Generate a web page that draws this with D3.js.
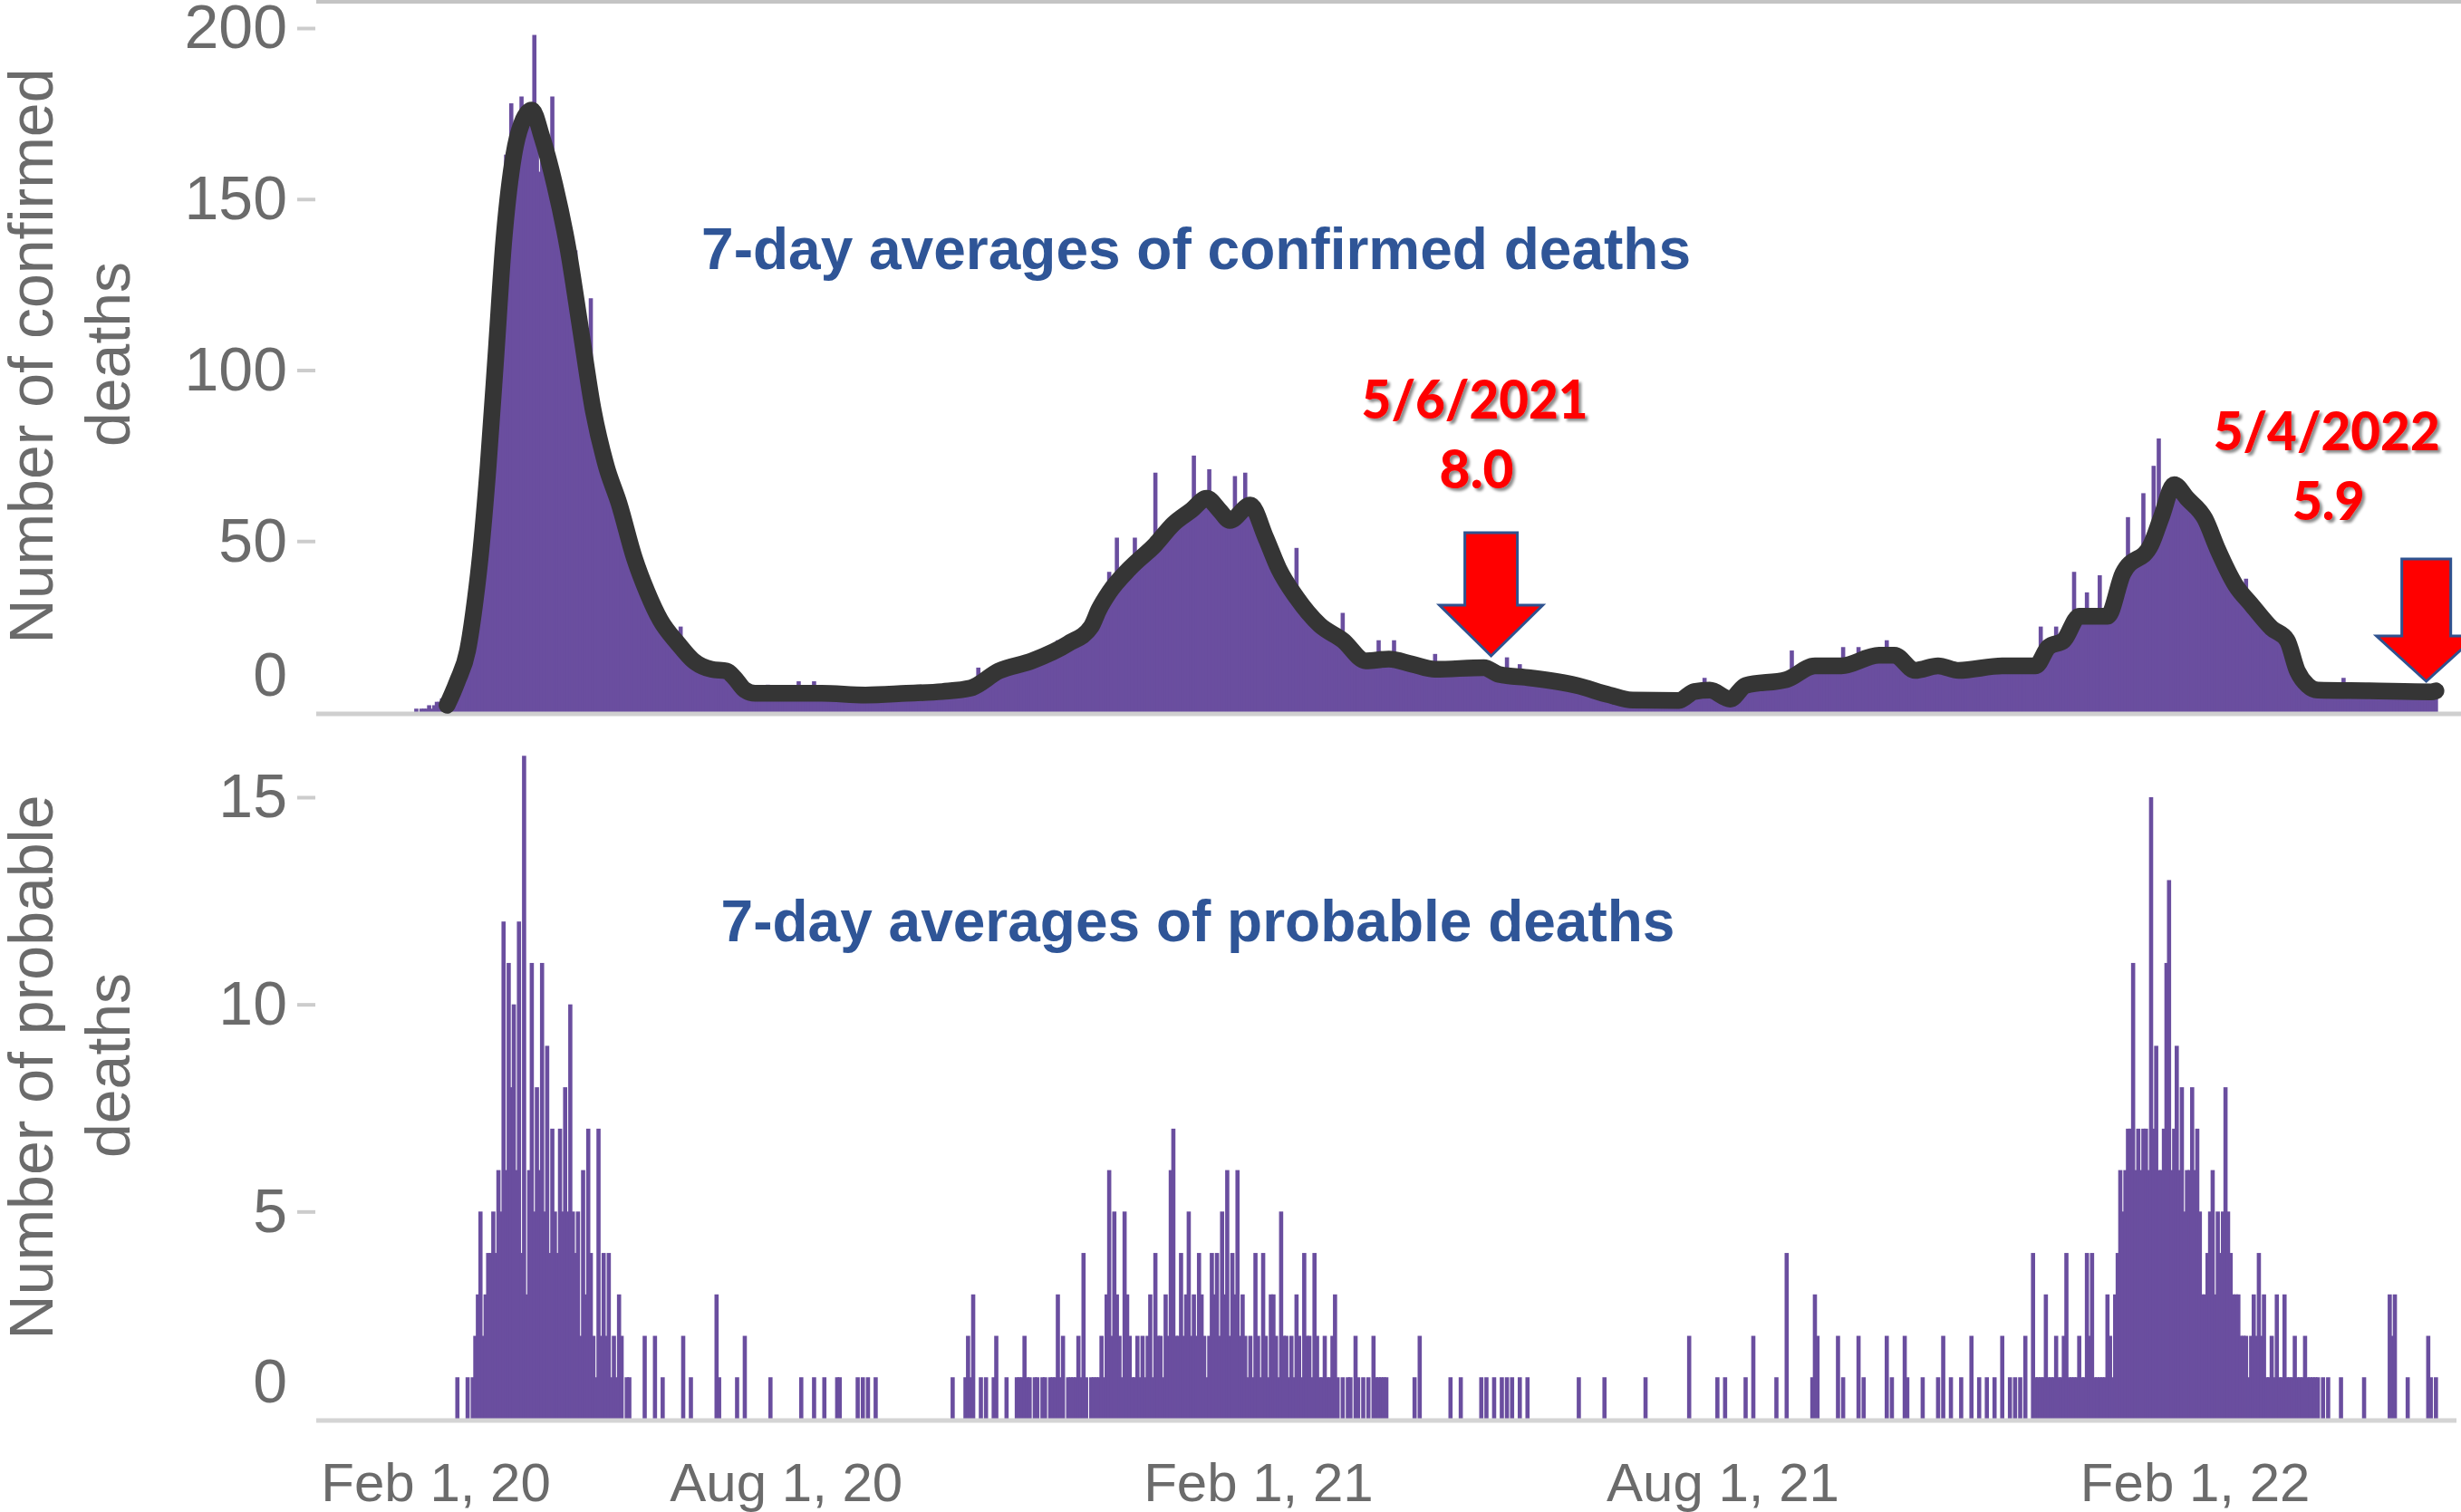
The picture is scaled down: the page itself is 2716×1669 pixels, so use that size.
<!DOCTYPE html>
<html>
<head>
<meta charset="utf-8">
<script src="https://cdn.jsdelivr.net/npm/d3@7"></script>
<style>
  html, body { margin: 0; padding: 0; background: #ffffff; }
  svg { display: block; }
</style>
</head>
<body>
<svg id="chart" width="2716" height="1669"></svg>
<script>
// ---------------- DATA ----------------
// Daily series start on this date (one value per day)
const seriesStart = "2020-03-01";

// Confirmed deaths per day, Mar 1 2020 - Dec 31 2020 (one row per month)
const confirmed2020 = [
  0,0,0,0,0,0,0,0,0,1,0,1,1,1,2,1,2,3,3,4,4,5,5,7,8,10,12,14,16,19,22,
  26,30,36,42,50,84,68,101,95,112,118,128,140,163,150,178,158,165,172,180,168,172,172,178,198,165,158,170,162,165,
  160,180,150,148,152,145,140,138,132,128,135,122,112,108,100,95,121,85,80,78,76,72,70,66,64,68,62,60,58,55,52,
  50,47,44,45,42,38,36,35,33,31,30,28,27,25,24,23,22,21,20,19,25,18,17,16,15,15,14,14,13,13,
  12,13,12,11,13,12,12,11,12,10,9,8,8,7,7,6,6,5,6,5,5,6,5,4,8,6,5,4,5,6,5,
  5,4,6,5,4,9,5,4,5,6,5,9,4,5,6,5,4,5,5,6,4,5,5,4,6,5,4,5,5,4,5,
  4,5,4,5,3,4,5,6,4,5,4,5,6,5,4,5,6,5,5,6,5,4,6,5,6,5,6,7,5,6,
  6,5,7,6,5,7,6,7,6,8,7,7,8,7,13,8,9,10,9,11,12,11,12,13,12,11,13,14,12,13,14,
  14,15,13,16,15,17,14,15,16,17,18,16,17,19,21,18,19,20,19,21,20,22,24,23,22,25,24,26,27,28,
  29,31,33,34,41,36,37,51,39,40,42,41,43,42,51,44,46,47,45,48,47,49,70,50,48,52,53,54,56,55,57
];
// Confirmed deaths per day, 2021
const confirmed2021 = [
  56,58,57,59,58,60,75,61,60,62,63,61,71,62,60,60,58,57,56,55,54,57,69,56,58,60,70,61,62,60,58,
  55,54,52,50,49,47,45,43,42,40,38,37,36,35,34,48,32,31,30,29,28,27,27,26,25,25,24,23,
  23,22,22,21,20,29,20,19,18,17,16,16,15,15,15,14,15,14,15,21,15,16,15,16,15,21,14,15,14,14,14,
  14,13,14,13,12,13,12,13,12,13,17,12,13,12,13,12,13,14,12,13,14,13,12,14,13,14,13,12,13,14,
  13,12,12,11,11,10,11,10,16,10,11,10,10,14,10,9,10,10,9,10,9,10,9,9,8,9,8,9,8,8,9,
  8,8,7,8,8,7,7,8,7,6,7,6,6,6,5,6,5,5,5,4,5,4,4,4,3,4,3,3,4,3,
  3,3,4,3,3,2,3,4,3,3,4,3,3,4,3,4,5,6,5,6,7,6,6,7,10,6,7,6,5,5,4,
  4,4,3,4,4,5,6,7,8,8,8,7,8,9,8,9,8,9,9,10,9,10,9,10,9,10,11,18,11,12,12,
  12,13,13,14,13,14,13,14,13,14,13,14,13,14,13,14,19,14,15,14,15,16,19,15,16,15,16,17,16,17,
  16,17,17,21,16,17,16,15,15,14,13,12,12,12,12,13,12,13,13,14,13,14,13,14,13,14,13,12,12,12,13,
  12,12,13,12,12,13,12,13,13,14,13,13,14,13,14,13,14,13,14,13,14,14,13,14,13,14,13,14,13,14,
  14,15,25,17,18,19,20,21,25,21,20,21,22,24,26,41,27,28,27,28,35,28,27,28,27,40,28,29,30,32,34
];
// Confirmed deaths per day, Jan 1 2022 - May 6 2022
const confirmed2022 = [
  36,38,40,41,42,57,43,44,45,46,47,64,46,47,48,72,50,80,58,60,62,64,66,67,66,65,64,63,62,61,60,
  59,58,57,56,55,53,51,49,47,45,43,42,41,40,39,38,37,36,35,34,39,33,32,31,30,29,28,27,
  26,25,24,24,23,22,22,21,21,20,16,10,8,7,7,6,7,7,7,6,6,6,7,6,6,7,6,6,7,6,10,
  6,7,6,6,5,6,7,6,6,7,6,6,5,6,7,6,6,5,6,7,6,6,5,6,7,6,6,5,6,6,
  6,6,6,6,6,5
];

// Probable deaths per day, Mar 1 2020 - Dec 31 2020
const probable2020 = [
  0,0,0,0,0,0,0,0,0,0,0,0,0,0,0,0,0,0,0,0,0,0,0,0,0,1,0,0,0,1,0,
  1,2,3,5,2,3,4,4,5,4,6,5,12,6,11,8,10,6,12,4,16,3,6,11,5,8,6,11,5,9,
  4,7,5,4,7,5,8,5,10,5,4,5,2,6,3,7,4,2,1,7,2,4,2,4,1,2,1,3,2,0,1,
  1,0,0,0,0,0,2,0,0,0,2,0,0,1,0,0,0,0,0,0,0,2,0,0,1,0,0,0,0,0,
  0,0,0,0,3,1,0,0,0,0,0,0,1,0,0,2,0,0,0,0,0,0,0,0,0,1,0,0,0,0,0,
  0,0,0,0,0,0,1,0,0,0,0,1,0,0,0,1,0,0,0,0,1,1,0,0,0,0,0,0,1,0,1,
  0,1,0,0,1,0,0,0,0,0,0,0,0,0,0,0,0,0,0,0,0,0,0,0,0,0,0,0,0,0,
  0,0,0,0,1,0,0,0,0,1,2,1,3,0,0,1,0,1,0,0,1,2,0,0,0,1,0,0,0,1,1,
  1,2,1,1,0,1,1,0,1,1,0,1,1,1,3,1,2,0,1,1,1,1,2,1,4,1,0,1,1,1,
  1,2,1,3,6,2,5,3,2,1,5,3,2,1,1,2,1,2,1,2,3,1,4,2,2,1,3,2,6,7,2
];
// Probable deaths per day, 2021
const probable2021 = [
  2,4,2,3,5,2,3,2,4,3,2,1,2,4,3,4,2,5,3,6,2,4,3,6,2,3,2,1,2,1,4,
  2,1,4,2,1,3,3,2,1,5,2,2,1,2,1,3,2,1,4,2,2,1,4,2,1,1,2,1,
  1,2,3,1,0,1,0,1,1,0,2,1,0,1,0,1,0,2,1,1,1,1,1,0,0,0,0,0,0,0,0,
  0,0,1,0,2,0,0,0,0,0,0,0,0,0,0,0,1,0,0,0,1,0,0,0,0,0,0,0,1,0,
  1,0,0,1,0,0,1,0,1,0,1,0,0,1,0,0,1,0,0,0,0,0,0,0,0,0,0,0,0,0,0,
  0,0,0,0,0,1,0,0,0,0,0,0,0,0,0,1,0,0,0,0,0,0,0,0,0,0,0,0,0,0,
  0,1,0,0,0,0,0,0,0,0,0,0,0,0,0,0,0,0,2,0,0,0,0,0,0,0,0,0,0,1,0,
  0,1,0,0,0,0,0,0,0,1,0,0,2,0,0,0,0,0,0,0,0,1,0,0,0,4,0,0,0,0,0,
  0,0,0,0,1,3,2,0,0,0,0,0,0,0,2,0,1,0,0,0,0,0,2,0,1,0,0,0,0,0,
  0,0,0,2,0,1,0,0,0,0,2,1,0,0,0,0,0,1,0,0,0,0,0,1,0,2,0,0,1,0,0,
  0,1,0,0,0,2,0,0,1,0,0,1,0,0,1,0,0,2,0,0,1,0,1,0,1,0,2,0,0,4,
  1,1,1,1,3,1,1,1,2,1,1,2,4,1,1,1,1,2,1,1,4,2,4,1,1,1,1,1,3,2,1
];
// Probable deaths per day, Jan 1 2022 - May 6 2022
const probable2022 = [
  3,4,6,5,6,7,7,11,6,7,6,7,7,6,15,7,9,6,6,7,11,13,6,7,9,6,8,5,6,6,8,
  6,7,5,3,3,4,5,6,3,5,4,5,8,5,4,3,3,3,2,2,2,1,2,3,2,4,2,3,
  1,1,2,1,3,1,1,3,1,1,1,2,1,1,1,2,1,1,1,1,1,0,1,0,1,0,0,0,0,1,0,
  0,0,0,0,0,0,0,1,0,0,0,0,0,0,0,0,0,3,2,3,0,0,0,0,1,0,0,0,0,0,
  0,0,2,1,0,1
];

// 7-day average of confirmed deaths
const avgDates = [
  "2020-03-22","2020-03-26","2020-03-30","2020-04-02","2020-04-04","2020-04-07","2020-04-10","2020-04-13",
  "2020-04-17","2020-04-20","2020-04-24","2020-04-28","2020-05-03","2020-05-08","2020-05-13","2020-05-18",
  "2020-05-23","2020-05-28","2020-06-03","2020-06-08","2020-06-13","2020-06-20","2020-06-26","2020-07-03",
  "2020-07-09","2020-07-12","2020-07-16","2020-07-20","2020-08-01","2020-08-15","2020-09-01","2020-09-17",
  "2020-10-01","2020-10-12","2020-10-23","2020-11-05","2020-11-19","2020-11-28","2020-12-01","2020-12-05","2020-12-13",
  "2020-12-23","2020-12-30","2021-01-06","2021-01-12","2021-01-17","2021-01-21","2021-01-29","2021-02-04",
  "2021-02-09","2021-02-16","2021-02-25","2021-03-06","2021-03-15","2021-03-24","2021-04-02","2021-04-11",
  "2021-04-30","2021-05-06","2021-05-18","2021-06-05","2021-06-18","2021-06-27","2021-07-15","2021-07-21",
  "2021-07-27","2021-08-04","2021-08-10","2021-08-26","2021-09-06","2021-09-16","2021-10-01","2021-10-07",
  "2021-10-15","2021-10-24","2021-11-01","2021-11-18","2021-12-01","2021-12-06","2021-12-12","2021-12-18",
  "2021-12-29","2022-01-04","2022-01-15","2022-01-19","2022-01-24","2022-01-29","2022-02-05","2022-02-10",
  "2022-02-17","2022-02-23","2022-03-03","2022-03-09","2022-03-13","2022-03-17","2022-03-21","2022-04-10",
  "2022-05-04","2022-05-06"
];
const avgValues = [
  2,9,18,33,46,72,104,137,
  163,172,176,168,154,136,112,88,
  72,61,45,35,27,20,15,12.5,
  12,10,6.5,5.5,5.5,5.5,5,5.5,
  6,7,12,15,20,25,30,35,42,
  49,55,59,62.5,59,56,60.5,51,
  42,33.5,25.5,21,15,15.5,14,12.5,
  13,11,10,7.8,5,3.5,3.4,6,
  6.4,3.8,7.8,9.5,13.5,13.5,16.6,16.6,
  12.2,13.5,12.2,13.5,13.5,19,21,28,
  28,40.5,49,57,66.5,62.5,56.5,47.5,
  37,31.5,24.5,21,12,7.8,6.4,6.2,
  5.9,6.2
];

// Axis ticks and labels
const confirmedTicks = [0, 50, 100, 150, 200];
const probableTicks = [0, 5, 10, 15];
const xTickDates = ["2020-02-01", "2020-08-01", "2021-02-01", "2021-08-01", "2022-02-01"];
const xTickLabels = ["Feb 1, 20", "Aug 1, 20", "Feb 1, 21", "Aug 1, 21", "Feb 1, 22"];

// Texts and annotations
const confirmedTitle = ["Number of confirmed", "deaths"];
const probableTitle = ["Number of probable", "deaths"];
const confirmedNote = "7-day averages of confirmed deaths";
const probableNote = "7-day averages of probable deaths";
const annotationDates = ["2021-05-06", "2022-05-04"];
const annotationDateLabels = ["5/6/2021", "5/4/2022"];
const annotationValueLabels = ["8.0", "5.9"];

// ---------------- CHART ----------------
const svg = d3.select("#chart");
const parse = d3.utcParse("%Y-%m-%d");
const start = parse(seriesStart);

function toDaily(parts) {
  const vals = [].concat(...parts);
  return vals.map((v, i) => ({ date: d3.utcDay.offset(start, i), value: v }));
}
const confirmed = toDaily([confirmed2020, confirmed2021, confirmed2022]);
const probable = toDaily([probable2020, probable2021, probable2022]);
const avg = avgDates.map((d, i) => ({ date: parse(d), value: avgValues[i] }));

const FONT = "'Liberation Sans', Arial, Helvetica, sans-serif";
const GRAY_TEXT = "#6b6b6b";
const BAR = "#6a4e9f";

const x = d3.scaleUtc()
  .domain([parse("2020-01-31"), parse("2022-05-14")])
  .range([349, 2711]);
const yTop = d3.scaleLinear().domain([0, 200]).range([786, 31]);
const yBot = d3.scaleLinear().domain([0, 15]).range([1566, 880]);

const step = x(d3.utcDay.offset(start, 1)) - x(start);
const barW = 4.6;

svg.append("defs").html(
  '<filter id="shadow" x="-10%" y="-20%" width="130%" height="150%">' +
  '<feDropShadow dx="3" dy="3" stdDeviation="1.6" flood-color="#000" flood-opacity="0.45"/></filter>'
);

// top border
svg.append("line").attr("x1", 349).attr("x2", 2716).attr("y1", 2).attr("y2", 2)
  .attr("stroke", "#c4c4c4").attr("stroke-width", 4);

// bars
function drawBars(data, y) {
  svg.append("g").selectAll("rect")
    .data(data.filter(d => d.value > 0))
    .join("rect")
    .attr("x", d => x(d.date) - barW / 2)
    .attr("width", barW)
    .attr("y", d => y(d.value))
    .attr("height", d => y(0) - y(d.value))
    .attr("fill", BAR);
}
drawBars(confirmed, yTop);
drawBars(probable, yBot);

// baselines
svg.append("line").attr("x1", 349).attr("x2", 2716).attr("y1", 788).attr("y2", 788)
  .attr("stroke", "#cfcfcf").attr("stroke-width", 5);
svg.append("line").attr("x1", 349).attr("x2", 2711).attr("y1", 1568).attr("y2", 1568)
  .attr("stroke", "#d4d4d4").attr("stroke-width", 5);

// 7-day average line
svg.append("path")
  .datum(avg)
  .attr("fill", "none")
  .attr("stroke", "#353535")
  .attr("stroke-width", 18.5)
  .attr("stroke-linejoin", "round")
  .attr("stroke-linecap", "round")
  .attr("d", d3.line().x(d => x(d.date)).y(d => yTop(d.value)).curve(d3.curveMonotoneX));

// y axes
function yAxis(scale, ticks) {
  const g = svg.append("g")
    .attr("transform", "translate(348,0)")
    .call(d3.axisLeft(scale).tickValues(ticks).tickSize(20).tickPadding(11).tickFormat(d3.format("d")));
  g.attr("font-size", 68).attr("font-family", FONT);
  g.select(".domain").remove();
  g.selectAll(".tick line").attr("stroke", "#cccccc").attr("stroke-width", 4);
  g.selectAll(".tick text").attr("fill", GRAY_TEXT);
  const zero = g.selectAll(".tick").filter(d => d === 0);
  zero.select("line").remove();
  zero.select("text").attr("y", -40);
}
yAxis(yTop, confirmedTicks);
yAxis(yBot, probableTicks);

// x axis
const gx = svg.append("g")
  .attr("transform", "translate(0,1566)")
  .call(d3.axisBottom(x).tickValues(xTickDates.map(parse)).tickSize(0)
    .tickFormat((d, i) => xTickLabels[i]));
gx.attr("font-size", 60).attr("font-family", FONT);
gx.select(".domain").remove();
gx.selectAll(".tick text").attr("y", 91).attr("dy", 0).attr("fill", GRAY_TEXT);
gx.selectAll(".tick").filter((d, i) => i === 0).select("text")
  .attr("text-anchor", "start").attr("x", 2);

// y titles
function yTitle(lines, cy) {
  const g = svg.append("g").attr("font-family", FONT).attr("font-size", 68).attr("fill", GRAY_TEXT);
  g.append("text").attr("transform", `translate(58,${cy}) rotate(-90)`)
    .attr("text-anchor", "middle").text(lines[0]);
  g.append("text").attr("transform", `translate(143,${cy - 2}) rotate(-90)`)
    .attr("text-anchor", "middle").text(lines[1]);
}
yTitle(confirmedTitle, 393);
yTitle(probableTitle, 1178);

// blue notes
svg.append("text").attr("x", 1320).attr("y", 297).attr("text-anchor", "middle")
  .attr("font-family", FONT).attr("font-weight", "bold").attr("font-size", 64)
  .attr("fill", "#2F5597").text(confirmedNote);
svg.append("text").attr("x", 1322).attr("y", 1039).attr("text-anchor", "middle")
  .attr("font-family", FONT).attr("font-weight", "bold").attr("font-size", 64)
  .attr("fill", "#2F5597").text(probableNote);

// annotations (arrow geometry = layout)
const arrowLayout = [
  { dx: -9, top: 588, headTop: 668, tip: 724, shaft: 29, head: 57, labelDx: -18, y1: 462, y2: 539, w1: 250, w2: 82 },
  { dx: -5, top: 617, headTop: 702, tip: 752, shaft: 27, head: 55, labelDx: -110, y1: 497, y2: 574, w1: 250, w2: 80 }
];
annotationDates.forEach((ds, i) => {
  const L = arrowLayout[i];
  const cx = x(parse(ds)) + L.dx;
  const pts = [
    [cx - L.shaft, L.top], [cx + L.shaft, L.top], [cx + L.shaft, L.headTop],
    [cx + L.head, L.headTop], [cx, L.tip], [cx - L.head, L.headTop], [cx - L.shaft, L.headTop]
  ];
  svg.append("polygon")
    .attr("points", pts.map(p => p.join(",")).join(" "))
    .attr("fill", "#ff0000")
    .attr("stroke", "#2F528F")
    .attr("stroke-width", 3)
    .attr("stroke-linejoin", "miter");
  const lx = cx + L.labelDx;
  const g = svg.append("g").attr("filter", "url(#shadow)")
    .attr("font-family", "Lato, 'Open Sans', 'Liberation Sans', sans-serif")
    .attr("font-weight", 900).attr("font-size", 59).attr("fill", "#ff0000")
    .attr("text-anchor", "middle");
  g.append("text").attr("x", lx).attr("y", L.y1)
    .attr("textLength", L.w1).attr("lengthAdjust", "spacingAndGlyphs")
    .text(annotationDateLabels[i]);
  g.append("text").attr("x", lx + 2).attr("y", L.y2)
    .attr("textLength", L.w2).attr("lengthAdjust", "spacingAndGlyphs")
    .text(annotationValueLabels[i]);
});
</script>
</body>
</html>
